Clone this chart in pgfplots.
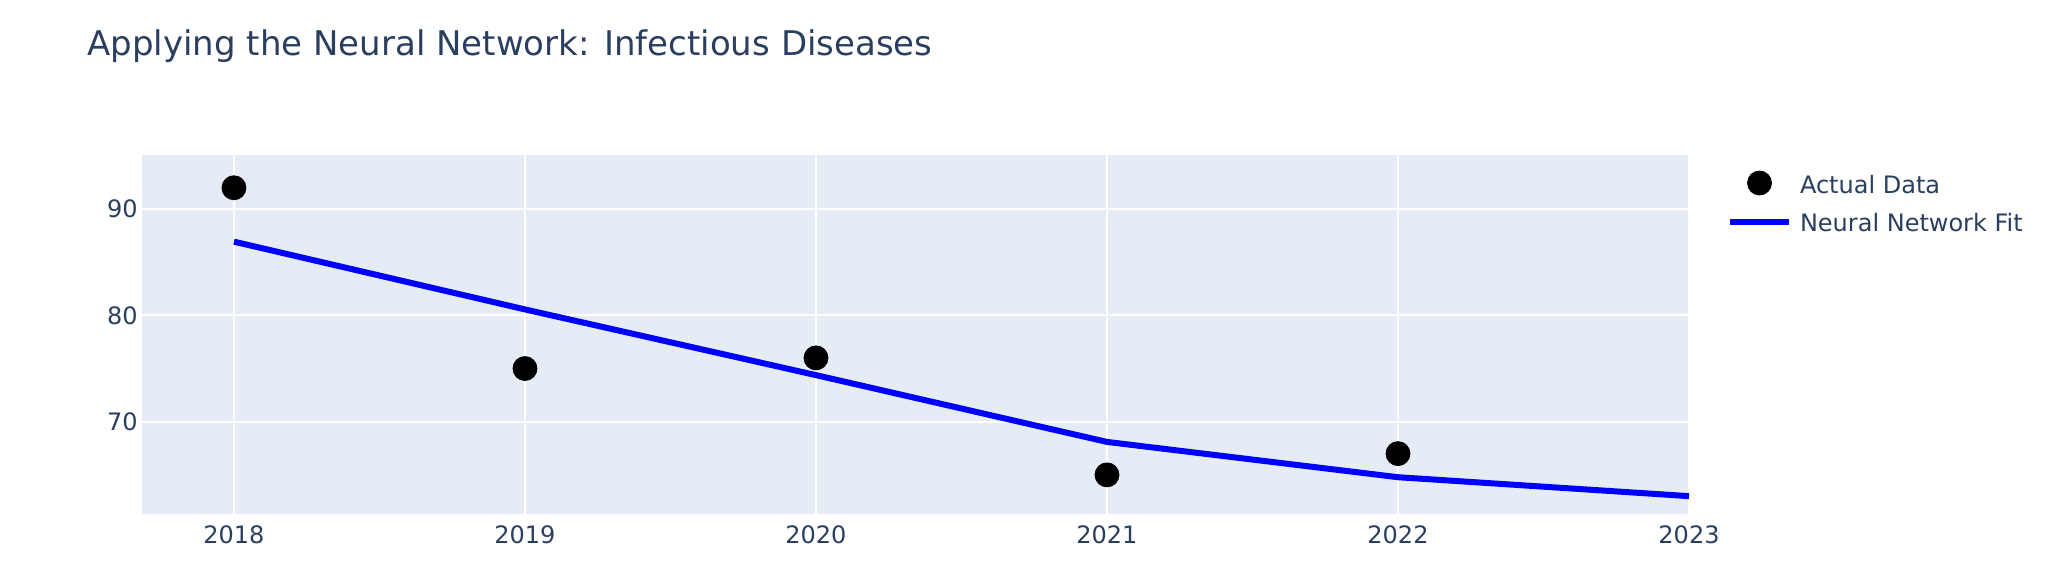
\documentclass[border=0pt]{standalone}
\usepackage{fontspec}
\setmainfont{DejaVu Sans}
\usepackage{pgfplots}
\pgfplotsset{compat=1.18}
\definecolor{txt}{HTML}{2A3F5F}
\definecolor{plotbg}{HTML}{E5ECF6}
\definecolor{fitblue}{HTML}{0000FF}
\pgfplotsset{
  markleg/.style={legend image code/.code={%
    \path[draw=none, fill=none] (0pt,-3pt) rectangle (35pt,9pt);
    \draw[##1, overlay, mark repeat=2, mark phase=2] plot coordinates {(0pt,5pt) (14.75pt,5pt) (29.5pt,5pt)};
  }},
  lineleg/.style={legend image code/.code={%
    \path[draw=none, fill=none] (0pt,-3pt) rectangle (35pt,9pt);
    \draw[##1, overlay] (0pt,4.5pt) -- (29.5pt,4.5pt);
  }},
}

\begin{document}
\begin{tikzpicture}
\useasboundingbox (-71pt,-36pt) rectangle (958pt,257pt);
\begin{axis}[
  at={(0pt,0pt)}, anchor=south west,
  scale only axis, width=773.5pt, height=179.5pt,
  xmin=2017.684, xmax=2023, ymin=61.32, ymax=95.08,
  xtick={2018,2019,2020,2021,2022,2023},
  xticklabels={2018,2019,2020,2021,2022,2023},
  ytick={70,80,90},
  /pgf/number format/assume math mode=true,
  axis background/.style={fill=plotbg},
  axis line style={draw=none},
  major tick length=0pt,
  tick style={draw=none},
  grid=major,
  major grid style={white, line width=1pt},
  xticklabel style={font=\fontsize{12}{14}\selectfont, text=txt, inner sep=0pt, yshift=-5.5pt},
  yticklabel style={font=\fontsize{12}{14}\selectfont, text=txt, inner sep=0pt, xshift=-2pt},
  legend style={
    at={(1.0265,0.9443)}, anchor=north west,
    draw=none, fill=none, inner sep=0pt, outer sep=0pt,
    font=\fontsize{12}{14}\selectfont, text=txt,
    row sep=7pt,
    nodes={inner sep=0pt, text height=9pt, text depth=3pt, anchor=base west},
  },
  legend cell align=left,
]
\addplot[only marks, mark=*, mark size=6pt, black, mark options={fill=black, draw=black}, markleg]
  coordinates {(2018,92) (2019,75) (2020,76) (2021,65) (2022,67)};
\addlegendentry{Actual Data}
\addplot[fitblue, line width=3pt, no marks, lineleg]
  coordinates {(2018,86.93) (2019,80.56) (2020,74.38) (2021,68.1) (2022,64.78) (2023,63.0)};
\addlegendentry{Neural Network Fit}
\end{axis}
\node[anchor=base west, font=\fontsize{17}{20}\selectfont, text=txt, inner sep=0pt] at (-27.5pt,229.5pt) {Applying the Neural Network: Infectious Diseases};
\end{tikzpicture}
\end{document}
